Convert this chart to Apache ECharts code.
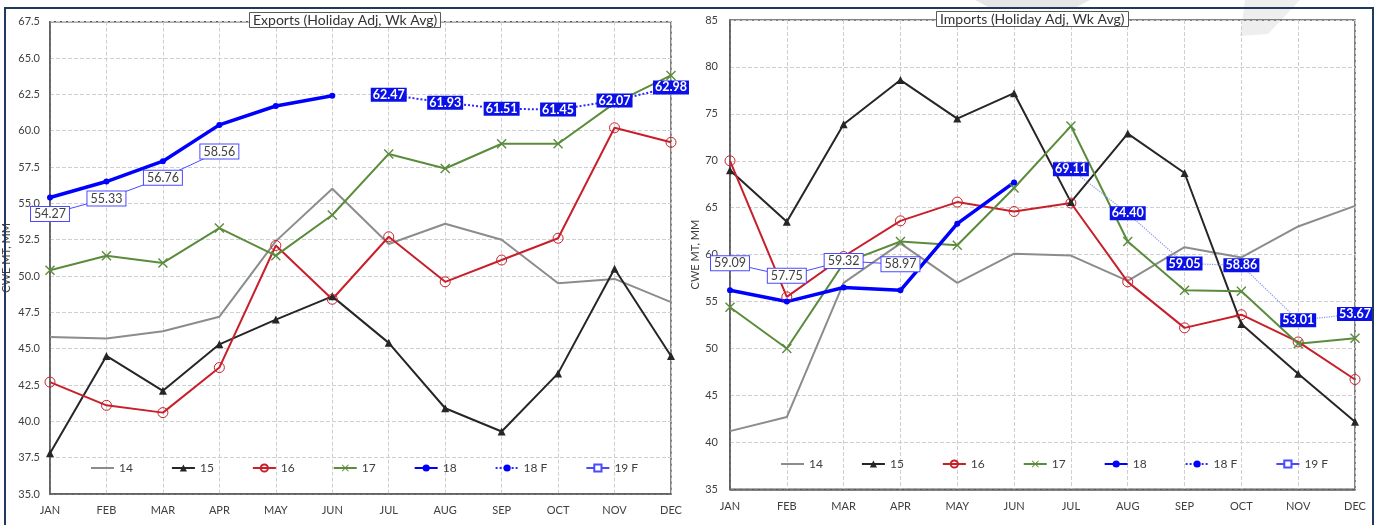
<!DOCTYPE html>
<html><head><meta charset="utf-8">
<script src="https://cdn.jsdelivr.net/npm/echarts@6/dist/echarts.min.js"></script>
<style>html,body{margin:0;padding:0;background:#fff}#c{width:1376px;height:525px}</style>
</head><body><div id="c"></div>
<script>
const months = ['JAN','FEB','MAR','APR','MAY','JUN','JUL','AUG','SEP','OCT','NOV','DEC'];
const seriesNames = ['14','15','16','17','18','18 F','19 F'];

// Exports
const exp14  = [45.8, 45.7, 46.2, 47.2, 52.4, 56.0, 52.2, 53.6, 52.5, 49.5, 49.8, 48.2];
const exp15  = [37.8, 44.5, 42.1, 45.3, 47.0, 48.6, 45.4, 40.9, 39.3, 43.3, 50.5, 44.5];
const exp16  = [42.7, 41.1, 40.6, 43.7, 52.1, 48.4, 52.7, 49.6, 51.1, 52.6, 60.2, 59.2];
const exp17  = [50.4, 51.4, 50.9, 53.3, 51.4, 54.2, 58.4, 57.4, 59.1, 59.1, 61.9, 63.8];
const exp18  = [55.4, 56.5, 57.9, 60.4, 61.7, 62.4, null, null, null, null, null, null];
const exp18F = [null, null, null, null, null, null, 62.47, 61.93, 61.51, 61.45, 62.07, 62.98];
const exp19F = [54.27, 55.33, 56.76, 58.56, null, null, null, null, null, null, null, null];

// Imports
const imp14  = [41.2, 42.7, 57.0, 61.2, 57.0, 60.1, 59.9, 57.2, 60.8, 59.7, 63.0, 65.2];
const imp15  = [69.0, 63.5, 73.9, 78.6, 74.5, 77.2, 65.6, 72.9, 68.7, 52.6, 47.3, 42.2];
const imp16  = [70.0, 55.5, 59.8, 63.6, 65.6, 64.6, 65.5, 57.1, 52.2, 53.6, 50.7, 46.7];
const imp17  = [54.4, 50.0, 59.1, 61.4, 61.0, 67.1, 73.7, 61.4, 56.2, 56.1, 50.5, 51.1];
const imp18  = [56.2, 55.0, 56.5, 56.2, 63.3, 67.7, null, null, null, null, null, null];
const imp18F = [null, null, null, null, null, null, 69.11, 64.40, 59.05, 58.86, 53.01, 53.67];
const imp19F = [59.09, 57.75, 59.32, 58.97, null, null, null, null, null, null, null, null];

const FONT = 'Lato';
const C14 = '#8c8c8c', C15 = '#262626', C16 = '#c8202a', C17 = '#5b8c3c', C18 = '#0000ff';
const XSYM = 'path://M0,1L1,0L5,4L9,0L10,1L6,5L10,9L9,10L5,6L1,10L0,9L4,5Z';
const HLINE = 'path://M0,0L0.01,0L0.01,0.01Z M0,4.5L10,4.5L10,5.5L0,5.5Z M9.99,10L10,10L10,9.99Z';

function build(idx, d, f18color, f18width) {
  const base = {type:'line', xAxisIndex:idx, yAxisIndex:idx, connectNulls:false, z:3};
  return [
    Object.assign({}, base, {name:seriesNames[0], data:d[0], symbol:HLINE, showSymbol:false, lineStyle:{color:C14, width:2}, itemStyle:{color:C14}}),
    Object.assign({}, base, {name:seriesNames[1], data:d[1], symbol:'triangle', symbolSize:8, lineStyle:{color:C15, width:2}, itemStyle:{color:C15}}),
    Object.assign({}, base, {name:seriesNames[2], data:d[2], symbol:'circle', symbolSize:10, showAllSymbol:true, lineStyle:{color:C16, width:2}, itemStyle:{color:'rgba(255,255,255,0)', borderColor:C16, borderWidth:1}}),
    Object.assign({}, base, {name:seriesNames[3], data:d[3], symbol:XSYM, symbolSize:10, lineStyle:{color:C17, width:2}, itemStyle:{color:C17}}),
    Object.assign({}, base, {name:seriesNames[4], data:d[4], symbol:'circle', symbolSize:6, lineStyle:{color:C18, width:3.5}, itemStyle:{color:C18}}),
    Object.assign({}, base, {name:seriesNames[5], data:d[5], symbol:'circle', symbolSize:6, z:4,
      lineStyle:{color:f18color, width:f18width, type:'dotted'}, itemStyle:{color:C18},
      label:{show:true, position:'inside', formatter:p=>Number(p.value).toFixed(2), color:'#fff', fontWeight:'bold', fontSize:12.5, fontFamily:FONT, backgroundColor:'#0a10e6', padding:[1,2,0,2]}}),
    Object.assign({}, base, {name:seriesNames[6], data:d[6], symbol:'rect', symbolSize:5, z:4,
      lineStyle:{color:'#4a4aff', width:1}, itemStyle:{color:'#fff', borderColor:'#4a4aff', borderWidth:1},
      label:{show:true, position:'inside', formatter:p=>Number(p.value).toFixed(2), color:'#404040', fontSize:12.5, fontFamily:FONT, backgroundColor:'#fff', borderColor:'#4a4aff', borderWidth:1, padding:[1,3,0,3]}})
  ];
}

function xAx(idx, margin) {
  return {type:'category', gridIndex:idx, data:months, boundaryGap:false,
    axisLine:{show:true, lineStyle:{color:'#595959', width:1.5}}, axisTick:{show:false},
    axisLabel:{color:'#404040', fontSize:11, fontFamily:FONT, margin:margin},
    splitLine:{show:true, lineStyle:{color:'#cfcfcf', type:'dashed', width:1}}};
}
function yAx(idx, min, max, interval, dec, labMargin, nameGap) {
  return {type:'value', gridIndex:idx, min:min, max:max, interval:interval,
    name:'CWE MT, MM', nameLocation:'middle', nameGap:nameGap,
    nameTextStyle:{color:'#404040', fontSize:11, fontFamily:FONT},
    axisLine:{show:true, lineStyle:{color:'#595959', width:1.5}}, axisTick:{show:false},
    axisLabel:{color:'#404040', fontSize:11, fontFamily:FONT, margin:labMargin, formatter:v=>v.toFixed(dec)},
    splitLine:{show:true, lineStyle:{color:'#cfcfcf', type:'dashed', width:1}}};
}

const chart = echarts.init(document.getElementById('c'), null, {renderer:'canvas'});
const legendCommon = {data:seriesNames, orient:'horizontal', itemWidth:23, itemHeight:9, itemGap:38,
  textStyle:{color:'#404040', fontSize:12, fontFamily:FONT}, selectedMode:false};
const titleCommon = {backgroundColor:'#fff', borderColor:'#595959', borderWidth:1, padding:[1,4,1,4],
  textStyle:{fontSize:14, fontWeight:'normal', color:'#333', fontFamily:FONT}};

chart.setOption({
  backgroundColor:'#fff',
  animation:false,
  title:[
    Object.assign({text:'Exports (Holiday Adj, Wk Avg)', left:249, top:12}, titleCommon),
    Object.assign({text:'Imports (Holiday Adj, Wk Avg)', left:936, top:11}, titleCommon)
  ],
  legend:[
    Object.assign({left:85, top:457}, legendCommon),
    Object.assign({left:775, top:453}, legendCommon)
  ],
  grid:[
    {left:50, top:21.7, width:621, height:472.3, show:true, borderColor:'#595959', borderWidth:1.5, backgroundColor:'transparent'},
    {left:730, top:20, width:625, height:469.3, show:true, borderColor:'#595959', borderWidth:1.5, backgroundColor:'transparent'}
  ],
  xAxis:[xAx(0, 11), xAx(1, 12)],
  yAxis:[yAx(0, 35, 67.5, 2.5, 1, 10, 38), yAx(1, 35, 85, 5, 0, 12, 28)],
  series:[].concat(
    build(0, [exp14, exp15, exp16, exp17, exp18, exp18F, exp19F], '#2a2aff', 2),
    build(1, [imp14, imp15, imp16, imp17, imp18, imp18F, imp19F], '#8896f2', 1.2)
  ),
  graphic:[
    {type:'polygon', z:-10, silent:true, shape:{points:[[975,0],[1090,0],[1075,8],[990,8]]}, style:{fill:'#e6e6e6'}},
    {type:'polygon', z:-10, silent:true, shape:{points:[[1245,0],[1300,0],[1268,34],[1240,36]]}, style:{fill:'#eeeeee'}},
    {type:'rect', z:100, silent:true, shape:{x:5, y:8, width:1368, height:530}, style:{fill:'none', stroke:'#1e3a5f', lineWidth:2}}
  ]
});
</script></body></html>
